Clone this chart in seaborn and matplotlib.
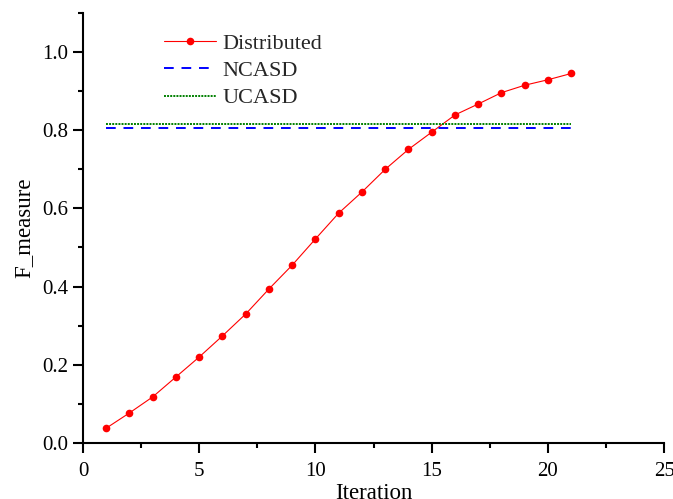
import matplotlib
matplotlib.use("Agg")
import matplotlib.pyplot as plt
import seaborn as sns
import pandas as pd
from matplotlib.ticker import MultipleLocator

iterations = list(range(1, 22))
distributed = [0.038, 0.077, 0.118, 0.169, 0.220, 0.274, 0.330, 0.394, 0.455, 0.522,
               0.588, 0.642, 0.700, 0.751, 0.795, 0.839, 0.867, 0.896, 0.915, 0.929, 0.945]
ncasd_x = [1, 21]
ncasd = [0.805, 0.805]
ucasd_x = [1, 21]
ucasd = [0.817, 0.817]
x_ticks = [0, 5, 10, 15, 20, 25]
x_tick_labels = ["0", "5", "10", "15", "20", "25"]
y_ticks = [0.0, 0.2, 0.4, 0.6, 0.8, 1.0]
y_tick_labels = ["0.0", "0.2", "0.4", "0.6", "0.8", "1.0"]

sns.set_theme(style="ticks", font="Liberation Serif")
plt.rcParams['font.family'] = ['Liberation Serif', 'DejaVu Serif']
plt.rcParams['font.serif'] = ['Liberation Serif', 'DejaVu Serif']

fig = plt.figure(figsize=(6.73, 4.99), dpi=100)
ax = fig.add_axes([0.1233, 0.1122, 0.8637, 0.862])

df = pd.DataFrame({"Iteration": iterations, "F": distributed})
sns.lineplot(data=df, x="Iteration", y="F", ax=ax, color="red", lw=0.8,
             marker="o", markersize=5.5, markeredgewidth=0, label="Distributed")
sns.lineplot(x=ncasd_x, y=ncasd, ax=ax, color="blue", lw=1.4, linestyle=(0, (5, 4)),
             label="NCASD")
sns.lineplot(x=ucasd_x, y=ucasd, ax=ax, color="green", lw=1.4, linestyle=(0, (1, 0.6)),
             label="UCASD")

ax.set_xlim(0, 25)
ax.set_ylim(0, 1.1)
ax.set_xticks(x_ticks, x_tick_labels, fontfamily='Liberation Serif', fontsize=15)
ax.set_yticks(y_ticks, y_tick_labels, fontfamily='Liberation Serif', fontsize=15)
ax.xaxis.set_minor_locator(MultipleLocator(2.5))
ax.yaxis.set_minor_locator(MultipleLocator(0.1))
ax.tick_params(which='major', direction='out', length=7, width=1.5, color='black', labelcolor='black')
ax.tick_params(which='minor', direction='out', length=3.5, width=1.5, color='black')
ax.tick_params(axis='x', which='major', pad=7)
ax.tick_params(axis='y', which='major', pad=3.5)
for s in ['top', 'right']:
    ax.spines[s].set_visible(False)
for s in ['left', 'bottom']:
    ax.spines[s].set_linewidth(1.5)
    ax.spines[s].set_color('black')

ax.set_xlabel("Iteration", fontsize=16.5, labelpad=1, color='black', family='Liberation Serif')
ax.set_ylabel("F_measure", fontsize=16.5, labelpad=6, color='black', family='Liberation Serif')

leg = ax.legend(loc='upper left', bbox_to_anchor=(0.124, 0.973), frameon=False,
                prop={'family': 'Liberation Serif', 'size': 16},
                handlelength=2.35, handletextpad=0.27, labelspacing=0.3, borderaxespad=0)

fig.savefig("out.png", dpi=100)
